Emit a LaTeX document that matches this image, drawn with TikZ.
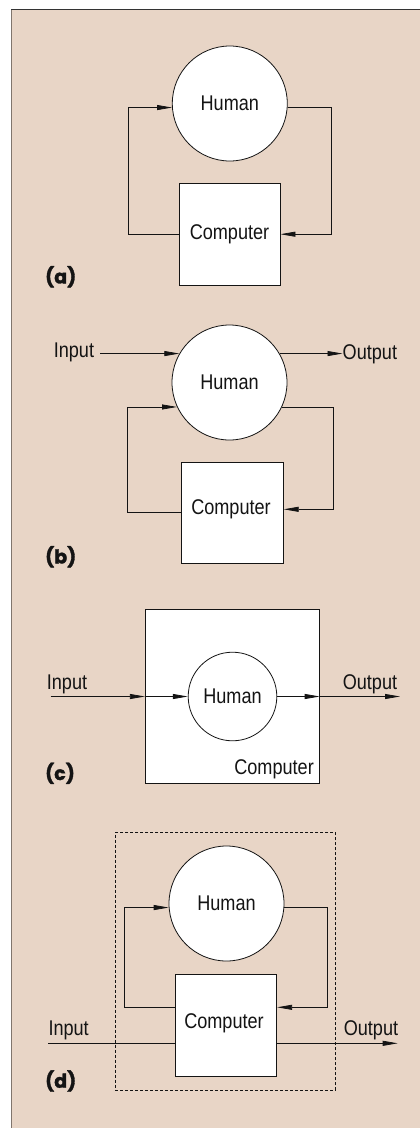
\documentclass[tikz,border=0pt]{standalone}
\usepackage{fontspec}
\setmainfont[FakeStretch=0.85]{Liberation Sans}
\newfontfamily\lblfont[BoldFeatures={FakeBold=1.6}]{Poppins}
\usetikzlibrary{arrows.meta}
\definecolor{tan}{HTML}{E8D5C6}
\definecolor{ink}{HTML}{141414}
\begin{document}
\begin{tikzpicture}[x=1pt,y=-1pt,
  every node/.style={font=\fontsize{21.3}{23}\selectfont, text=ink},
  hum/.style={circle, draw=ink, line width=0.8pt, fill=white, inner sep=0pt},
  comp/.style={rectangle, draw=ink, line width=0.8pt, fill=white, inner sep=0pt},
  wire/.style={draw=ink, line width=0.75pt},
  arr/.style={wire, -{Triangle[length=15pt,width=5pt]}},
  txt/.style={inner sep=0pt},
  lbl/.style={inner sep=0pt, anchor=west, font=\lblfont\bfseries\fontsize{19}{21}\selectfont}]
\useasboundingbox (0,0) rectangle (420,1128);
\fill[white] (0,0) rectangle (420,1128);
\fill[tan] (11.5,9.5) rectangle (420,1128);
\draw[color=black!80, line width=1pt] (11,9.5) -- (420,9.5);
\draw[color=black!45!tan, line width=1.3pt] (11.5,9.5) -- (11.5,1128);

% ---------- (a)
\node[hum, minimum size=115pt] (ha) at (229.8,103.5) {Human};
\node[comp, minimum width=101pt, minimum height=102pt] (ca) at (229.5,234.2) {Computer};
\coordinate (aL) at (128,0);
\coordinate (aR) at (331,0);
\draw[arr] (ca.west) -- (ca.west -| aL) -- (ha.184.5 -| aL) -- (ha.184.5);
\draw[arr] (ha.-4.5) -- (ha.-4.5 -| aR) -- (ca.east -| aR) -- (ca.east);
\node[lbl] (la) at (45,276.7) {(a)};

% ---------- (b)
\node[hum, minimum size=115pt] (hb) at (229.5,382.5) {Human};
\node[comp, minimum width=101.6pt, minimum height=101.3pt] (cb) at (232.5,512.7) {};
\node[txt] (cbl) at (231,509.5) {Computer};
\node[txt, anchor=base east] (inb) at (94.3,357.3) {Input};
\node[txt, anchor=base west] (outb) at (342.5,359) {Output};
\coordinate (bL) at (127.7,0);
\coordinate (bR) at (333.3,0);
\coordinate (bIn) at (100,0);
\draw[arr] (hb.150 -| bIn) -- (hb.150);
\draw[arr] (hb.30) -- (hb.30 -| outb.west);
\draw[arr] (cb.west) -- (cb.west -| bL) -- (hb.205.5 -| bL) -- (hb.205.5);
\draw[arr] (hb.-25.5) -- (hb.-25.5 -| bR) -- ([yshift=3.4pt]cb.east -| bR) -- ([yshift=3.4pt]cb.east);
\node[lbl] (lb) at (45,556.7) {(b)};

% ---------- (c)
\node[comp, minimum width=174pt, minimum height=173.6pt] (cc) at (232.3,696.5) {};
\node[hum, minimum size=88.6pt] (hc) at (232.5,696.5) {Human};
\node[txt, anchor=base east] (ccl) at (314,774.2) {Computer};
\node[txt, anchor=base west] (inc) at (46.7,689) {Input};
\node[txt, anchor=base east] (outc) at (397.3,689) {Output};
\coordinate (cIn) at (50.7,696.5);
\coordinate (cOut) at (400,696.5);
\draw[arr] (cIn) -- (cc.west);
\draw[arr] (cc.west) -- (hc.west);
\draw[arr] (hc.east) -- (cc.east);
\draw[arr] (cc.east) -- (cOut);
\node[lbl] (lc) at (45,773.3) {(c)};

% ---------- (d)
\node[draw=ink, dash pattern=on 3pt off 2pt, line width=0.7pt, minimum width=220.4pt, minimum height=257.3pt, inner sep=0pt] (dd) at (225.5,961.35) {};
\node[hum, minimum size=115pt] (hd) at (226.5,903.5) {Human};
\node[comp, minimum width=101.7pt, minimum height=102.4pt] (cd) at (225.85,1025.5) {};
\node[txt] (cdl) at (224,1023) {Computer};
\coordinate (dL) at (124.3,0);
\coordinate (dR) at (327,0);
\draw[arr] ([yshift=18.2pt]cd.west) -- ([yshift=18.2pt]cd.west -| dL) -- (hd.184.2 -| dL) -- (hd.184.2);
\draw[arr] (hd.-4.2) -- (hd.-4.2 -| dR) -- ([yshift=18.2pt]cd.east -| dR) -- ([yshift=18.2pt]cd.east);
\node[txt, anchor=base west] (ind) at (48.3,1035.5) {Input};
\node[txt, anchor=base east] (outd) at (398.3,1035) {Output};
\coordinate (dIn) at (48.3,0);
\coordinate (dOut) at (397.7,0);
\draw[wire] ([yshift=-17.8pt]cd.west -| dIn) -- ([yshift=-17.8pt]cd.west);
\draw[arr] ([yshift=-17.8pt]cd.east) -- ([yshift=-17.8pt]cd.east -| dOut);
\node[lbl] (ld) at (45,1081) {(d)};
\end{tikzpicture}
\end{document}
